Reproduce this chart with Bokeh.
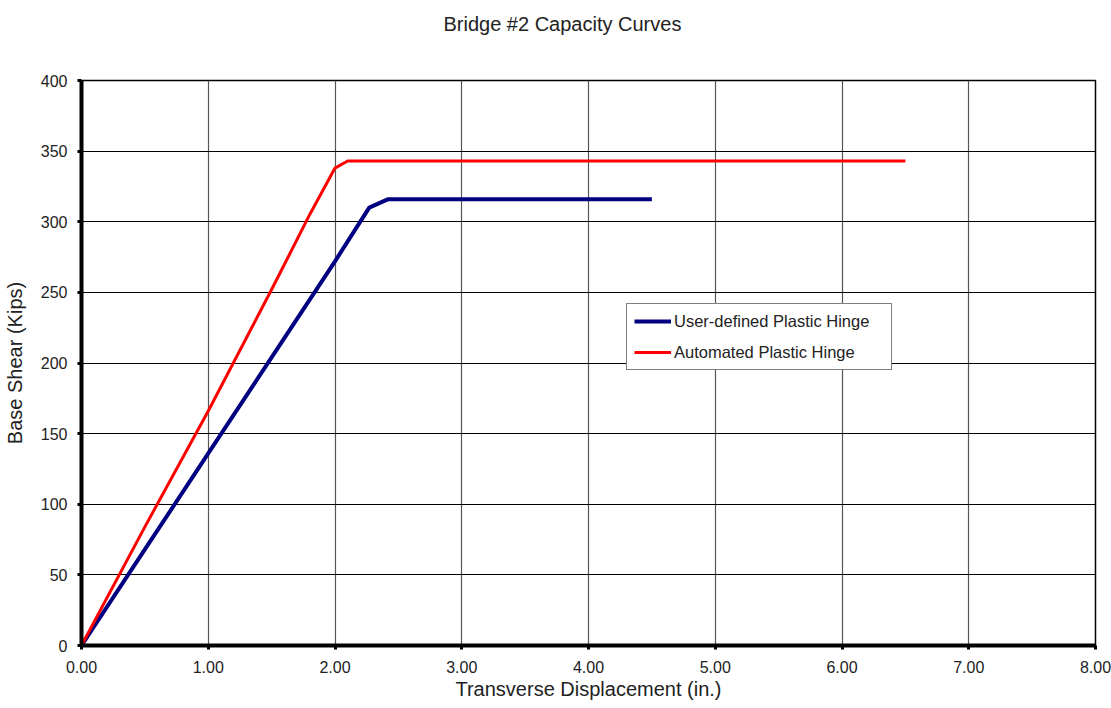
from bokeh.plotting import figure
from bokeh.models import Legend, LegendItem, FixedTicker, NumeralTickFormatter, Range1d, Title
from bokeh.embed import file_html
from bokeh.resources import INLINE

# Data
user_x = [0.0, 0.5, 1.0, 1.5, 2.0, 2.27, 2.42, 4.50]
user_y = [0, 68, 136, 204, 272, 310, 316, 316]
auto_x = [0.0, 0.5, 1.0, 1.5, 1.8, 2.0, 2.1, 6.50]
auto_y = [0, 84, 166, 252, 305, 338, 343, 343]
x_ticks = [0, 1, 2, 3, 4, 5, 6, 7, 8]
y_ticks = [0, 50, 100, 150, 200, 250, 300, 350, 400]
title_text = "Bridge #2 Capacity Curves"

FONT = "Liberation Sans"

p = figure(width=1111, height=708, output_backend="svg", toolbar_location=None,
           x_range=Range1d(0, 8), y_range=Range1d(0, 400),
           min_border_left=80, min_border_right=16, min_border_top=80, min_border_bottom=63,
           title=title_text)

p.title.text_font = FONT
p.title.text_font_size = "20px"
p.title.text_font_style = "normal"
p.title.text_color = "#222222"
p.title.align = "left"
p.title.offset = 362
p.title.standoff = 21

# empty spacer title between the real title and the frame
spacer = Title(text=" ", text_font_size="1px", standoff=32)
p.add_layout(spacer, "above")

p.outline_line_color = "black"
p.outline_line_width = 1.5
p.background_fill_color = "white"
p.border_fill_color = "white"

for ax in (p.xaxis[0], p.yaxis[0]):
    ax.axis_line_width = 4
    ax.axis_line_color = "black"
    ax.major_tick_line_width = 3
    ax.major_tick_line_color = "black"
    ax.major_tick_out = 4
    ax.major_tick_in = 0
    ax.minor_tick_line_color = None
    ax.major_label_text_font = FONT
    ax.major_label_text_font_size = "16px"
    ax.major_label_text_color = "#222222"
    ax.axis_label_text_font = FONT
    ax.axis_label_text_font_size = "20px"
    ax.axis_label_text_font_style = "normal"
    ax.axis_label_text_color = "#222222"

p.xaxis.ticker = FixedTicker(ticks=x_ticks)
p.yaxis.ticker = FixedTicker(ticks=y_ticks)
p.xaxis.formatter = NumeralTickFormatter(format="0.00")
p.xaxis.axis_label = "Transverse Displacement (in.)"
p.yaxis.axis_label = "Base Shear (Kips)"
p.xaxis.major_label_standoff = 11
p.yaxis.major_label_standoff = 10
p.xaxis.axis_label_standoff = 2
p.yaxis.axis_label_standoff = 12

p.xgrid.grid_line_color = "#555555"
p.ygrid.grid_line_color = "black"
p.xgrid.grid_line_width = 1.2
p.ygrid.grid_line_width = 1.2

r_user = p.line(user_x, user_y, line_color="#000080", line_width=4)
r_auto = p.line(auto_x, auto_y, line_color="#ff0000", line_width=3)

legend = Legend(items=[LegendItem(label="User-defined Plastic Hinge", renderers=[r_user]),
                       LegendItem(label="Automated Plastic Hinge", renderers=[r_auto])],
                location=(545, 275), orientation="vertical")
legend.border_line_color = "black"
legend.border_line_width = 1
legend.background_fill_alpha = 1
legend.label_text_font = FONT
legend.label_text_font_size = "16.5px"
legend.label_text_color = "#222222"
legend.glyph_width = 37
legend.glyph_height = 20
legend.label_height = 20
legend.label_width = 210
legend.label_standoff = 3
legend.spacing = 11
legend.padding = 7
legend.margin = 0
p.add_layout(legend, "center")

open("out.html", "w").write(file_html(p, INLINE))
